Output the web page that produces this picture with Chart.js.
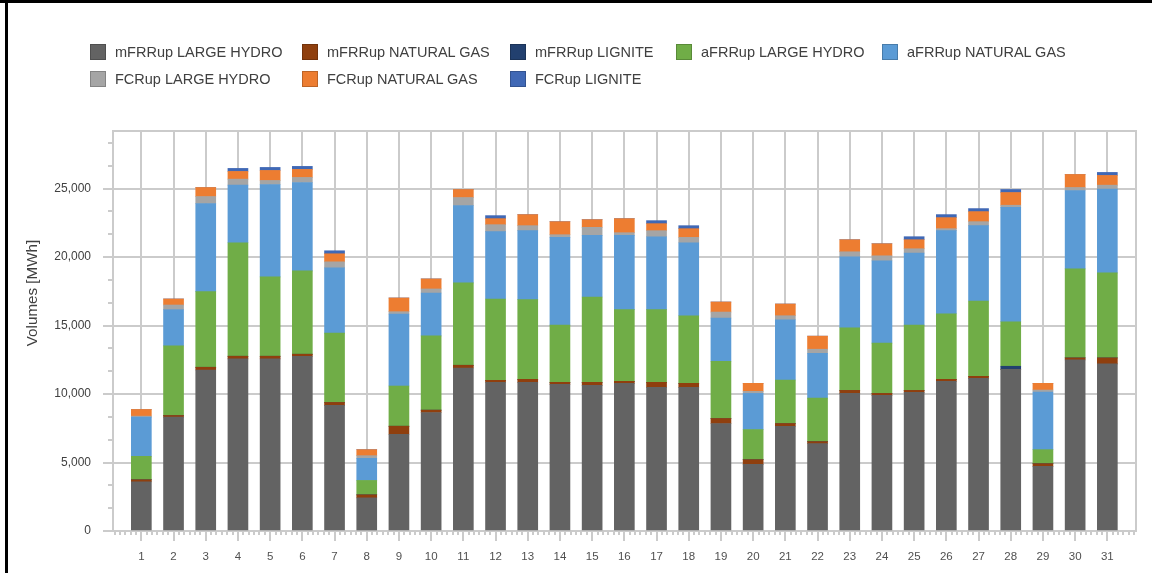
<!DOCTYPE html>
<html><head><meta charset="utf-8">
<script src="https://cdn.jsdelivr.net/npm/chart.js@4.4.0/dist/chart.umd.min.js"></script>
<style>
html,body{margin:0;padding:0;background:#fff;width:1152px;height:573px;overflow:hidden;}
#wrap{position:relative;width:1152px;height:573px;}
canvas{position:absolute;left:0;top:0;}
#legend{position:absolute;left:90px;top:44px;display:grid;grid-template-columns:212px 208px 166px 206px auto;grid-auto-rows:26.5px;font:14.5px 'Liberation Sans',Arial,sans-serif;color:#404040;}
.item{display:flex;align-items:flex-start;white-space:nowrap;}
.box{width:16px;height:16px;box-sizing:border-box;border:1px solid rgba(0,0,0,0.2);margin-right:9px;flex:none;}
.lbl{line-height:16px;}
.bt{position:absolute;left:0;top:0;width:1152px;height:3px;background:#000;}
.bl{position:absolute;left:5px;top:0;width:3px;height:573px;background:#000;}
</style></head>
<body>
<div id="wrap">
<canvas id="c" width="1152" height="573"></canvas>
<div id="legend"></div>
<div class="bt"></div><div class="bl"></div>
</div>
<script>
const days = [1,2,3,4,5,6,7,8,9,10,11,12,13,14,15,16,17,18,19,20,21,22,23,24,25,26,27,28,29,30,31];
const yTicks = [0,5000,10000,15000,20000,25000];

const mFRRupLargeHydro = [3593,8310,11756,12562,12562,12758,9165,2420,7063,8652,11902,10851,10851,10705,10631,10778,10485,10485,7845,4864,7650,6379,10045,9898,10118,10925,11145,11805,4717,12489,12196];
const mFRRupNaturalGas = [147,122,196,196,196,147,220,220,587,171,196,147,220,147,220,147,367,293,367,342,196,147,220,147,147,147,147,0,196,147,440];
const mFRRupLignite    = [0,0,0,0,0,0,0,0,0,0,0,0,0,0,0,0,0,0,0,0,0,0,0,0,0,0,0,220,0,0,0];
const aFRRupLargeHydro = [1711,5084,5523,8285,5792,6086,5059,1051,2933,5426,6012,5939,5817,4179,6232,5230,5303,4937,4179,2200,3177,3177,4570,3666,4766,4790,5499,3251,1026,6501,6208];
const aFRRupNaturalGas = [2860,2640,6428,4204,6745,6452,4766,1613,5255,3128,5646,4912,5035,6403,4497,5426,5328,5328,3153,2640,4399,3275,5181,6012,5255,6061,5499,8358,4204,5719,6110];
const FCRupLargeHydro  = [73,342,513,440,293,367,440,196,171,293,587,513,367,196,587,196,440,391,440,147,293,293,367,367,318,147,293,147,147,220,293];
const FCRupNaturalGas  = [489,440,660,562,733,587,587,440,1002,733,587,440,807,953,562,1026,513,635,733,587,855,953,880,880,660,807,733,929,489,953,709];
const FCRupLignite     = [0,0,0,220,220,220,220,0,0,0,0,220,0,0,0,0,220,220,0,0,0,0,0,0,220,220,220,220,0,0,220];

const seriesNames = ['mFRRup LARGE HYDRO','mFRRup NATURAL GAS','mFRRup LIGNITE','aFRRup LARGE HYDRO','aFRRup NATURAL GAS','FCRup LARGE HYDRO','FCRup NATURAL GAS','FCRup LIGNITE'];
const seriesValues = [mFRRupLargeHydro,mFRRupNaturalGas,mFRRupLignite,aFRRupLargeHydro,aFRRupNaturalGas,FCRupLargeHydro,FCRupNaturalGas,FCRupLignite];
const seriesColors = ['#636363','#8F3F0E','#22406F','#70AD47','#5B9BD5','#A5A5A5','#ED7D31','#4068B5'];

const FONT = "'Liberation Sans', Arial, sans-serif";
const GRID = '#cbcbcb';

const extras = {
  id: 'extras',
  beforeDatasetsDraw(chart) {
    const {ctx, chartArea: a, scales: {x, y}} = chart;
    ctx.save();
    ctx.strokeStyle = GRID; ctx.lineWidth = 2;
    ctx.beginPath();
    ctx.moveTo(a.left - 1, a.top); ctx.lineTo(a.right, a.top); ctx.lineTo(a.right, a.bottom + 1);
    ctx.stroke();
    // minor y ticks
    const step = 5000 / 3;
    for (let k = 1; k * step <= y.max; k++) {
      if (k % 3 === 0) continue;
      const py = Math.round(y.getPixelForValue(k * step));
      ctx.beginPath(); ctx.moveTo(a.left - 5, py); ctx.lineTo(a.left, py); ctx.stroke();
    }
    // minor x ticks
    const kMin = Math.ceil((x.min - 1) * 6), kMax = Math.floor((x.max - 1) * 6);
    for (let k = kMin; k <= kMax; k++) {
      if (k % 6 === 0) continue;
      const px = Math.round(x.getPixelForValue(1 + k / 6));
      ctx.beginPath(); ctx.moveTo(px, a.bottom); ctx.lineTo(px, a.bottom + 4); ctx.stroke();
    }
    ctx.restore();
  },
  afterDraw(chart) {
    const ctx = chart.ctx;
    ctx.save();
    ctx.translate(32.5, 293);
    ctx.rotate(-Math.PI / 2);
    ctx.font = "15.2px " + FONT;
    ctx.fillStyle = '#404040';
    ctx.textAlign = 'center';
    ctx.textBaseline = 'middle';
    ctx.fillText('Volumes [MWh]', 0, 0);
    ctx.restore();
  }
};

const chart = new Chart(document.getElementById('c'), {
  type: 'bar',
  data: {
    labels: days,
    datasets: seriesNames.map((n, i) => ({
      label: n,
      data: seriesValues[i],
      backgroundColor: seriesColors[i],
      borderWidth: 0,
      barThickness: 20
    }))
  },
  options: {
    responsive: false,
    animation: false,
    devicePixelRatio: 1,
    layout: { padding: { left: 0, top: 131, right: 16, bottom: 0 } },
    plugins: { legend: { display: false }, tooltip: { enabled: false } },
    scales: {
      x: {
        type: 'linear', stacked: true, offset: false,
        min: 0.12, max: 31.89,
        afterBuildTicks: s => { s.ticks = days.map(v => ({ value: v })); },
        afterFit: s => { s.height = 42; },
        grid: { offset: false, color: GRID, lineWidth: 2, tickLength: 10, tickColor: GRID },
        border: { color: GRID, width: 2 },
        ticks: { autoSkip: false, maxRotation: 0, padding: 9, color: '#505050', font: { family: FONT, size: 11.5 }, callback: v => String(v) }
      },
      y: {
        stacked: true, min: 0, max: 29200,
        afterBuildTicks: s => { s.ticks = yTicks.map(v => ({ value: v })); },
        afterFit: s => { s.width = 113; },
        grid: { color: GRID, lineWidth: 2, tickLength: 10, tickColor: GRID },
        border: { color: GRID, width: 2 },
        ticks: { padding: 12, color: '#404040', font: { family: FONT, size: 12 }, callback: v => v.toLocaleString('en-US') }
      }
    }
  },
  plugins: [extras]
});

// HTML legend built from the chart's datasets
const leg = document.getElementById('legend');
chart.data.datasets.forEach(ds => {
  const it = document.createElement('div'); it.className = 'item';
  const b = document.createElement('span'); b.className = 'box'; b.style.background = ds.backgroundColor;
  const t = document.createElement('span'); t.className = 'lbl'; t.textContent = ds.label;
  it.appendChild(b); it.appendChild(t); leg.appendChild(it);
});
</script>
</body></html>
